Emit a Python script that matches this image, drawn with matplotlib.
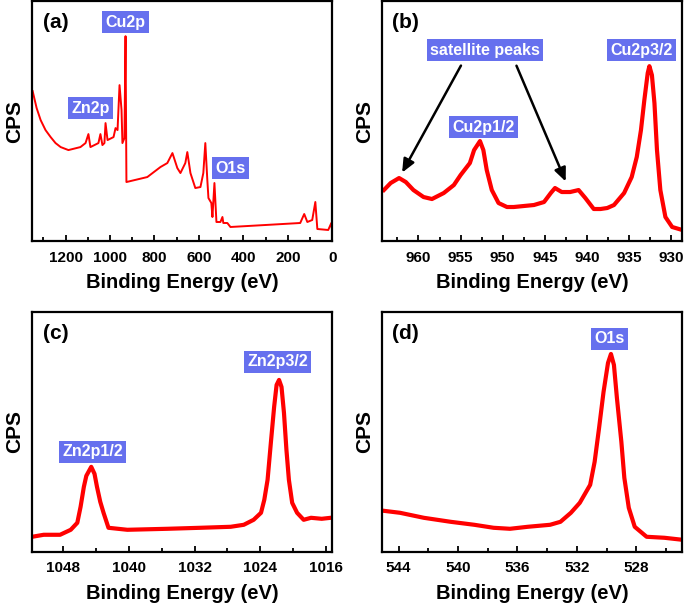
import numpy as np
import matplotlib.pyplot as plt

plt.rcParams['font.family'] = ['Liberation Sans', 'DejaVu Sans']
plt.rcParams['font.weight'] = 'bold'

# (a) survey spectrum, binding energy (eV) vs intensity (arb.)
survey_be = [1348, 1330, 1312, 1290, 1267, 1245, 1222, 1187, 1133, 1110, 1097, 1088, 1052,
             1043, 1034, 1025, 1020, 1011, 984, 975, 966, 957, 948, 944, 935, 930, 926,
             832, 773, 742, 719, 697, 683, 661, 652, 638, 616, 593, 580, 571, 562, 557,
             544, 539, 530, 521, 503, 494, 490, 472, 458, 300, 144, 126, 112, 90, 76,
             67, 18, 4, 0]
survey_cps = [150, 133, 121, 111, 104, 98, 94, 91, 94, 98, 107, 94, 98,
              107, 96, 98, 118, 101, 104, 113, 111, 156, 131, 98, 103, 205, 59,
              64, 74, 78, 88, 73, 68, 78, 89, 68, 53, 54, 68, 98, 61, 43,
              38, 24, 58, 19, 19, 24, 18, 18, 14, 16, 18, 27, 19, 21, 39,
              12, 11, 18, 9]

# (b) Cu 2p
cu_be = [964.1, 963.3, 962.3, 961.5, 960.6, 959.4, 958.4, 957.0, 955.8, 955.0, 953.9,
         953.4, 952.7, 952.3, 951.9, 951.3, 950.5, 949.5, 948.7, 946.3, 945.1, 944.3,
         943.8, 943.0, 942.0, 941.0, 940.2, 939.2, 938.4, 937.6, 936.8, 935.6, 934.7,
         934.1, 933.6, 933.2, 932.8, 932.6, 932.3, 932.0, 931.7, 931.3, 930.7, 929.9,
         928.7]
cu_cps = [51, 58, 63, 59, 51, 44, 42, 48, 56, 66, 78,
          91, 100, 91, 71, 51, 38, 34, 34, 36, 39, 48,
          53, 49, 49, 51, 43, 32, 32, 33, 36, 48, 64,
          84, 111, 141, 168, 175, 166, 138, 91, 51, 24, 14,
          11]

# (c) Zn 2p
zn_be = [1051.8, 1050.4, 1048.4, 1047.1, 1046.3, 1045.9, 1045.5, 1045.2, 1044.6, 1044.2,
         1043.9, 1043.5, 1043.1, 1042.5, 1040.2, 1035.3, 1031.3, 1027.6, 1026.0, 1024.8,
         1023.9, 1023.5, 1023.1, 1022.7, 1022.3, 1022.0, 1021.7, 1021.4, 1021.1, 1020.8,
         1020.5, 1020.1, 1019.5, 1018.7, 1017.8, 1016.5, 1015.4]
zn_cps = [15, 17, 17, 22, 29, 45, 65, 76, 85, 78,
          65, 50, 39, 24, 22, 23, 24, 25, 27, 32,
          39, 52, 72, 109, 145, 167, 172, 165, 139, 102,
          72, 49, 39, 32, 34, 33, 34]

# (d) O 1s
o_be = [545.0, 543.9, 542.3, 540.5, 538.9, 537.6, 536.5, 535.3, 533.8, 533.1, 532.4,
        531.8, 531.1, 530.8, 530.5, 530.2, 529.9, 529.7, 529.5, 529.3, 529.0, 528.8,
        528.5, 528.1, 527.3, 526.1, 524.9]
o_cps = [41, 39, 34, 30, 27, 24, 23, 25, 27, 30, 39,
         49, 67, 90, 124, 160, 189, 198, 187, 154, 110, 74,
         44, 25, 15, 14, 12]

box = dict(boxstyle='square,pad=0.2', fc='#6670EE', ec='none')

fig = plt.figure(figsize=(6.85, 6.07), dpi=100)
axa = fig.add_axes([0.047, 0.603, 0.438, 0.395])
axb = fig.add_axes([0.558, 0.603, 0.438, 0.395])
axc = fig.add_axes([0.047, 0.091, 0.437, 0.395])
axd = fig.add_axes([0.558, 0.091, 0.438, 0.395])

axa.plot(survey_be, survey_cps, color='red', lw=1.4)
axa.set_xlim(1350, 0)
axa.set_xticks([1200, 1000, 800, 600, 400, 200, 0])
axa.set_xticks(np.arange(1300, 0, -100), minor=True)

axb.plot(cu_be, cu_cps, color='red', lw=3)
axb.set_xlim(964.3, 928.7)
axb.set_xticks([960, 955, 950, 945, 940, 935, 930])
axb.set_xticks(np.arange(962.5, 928.7, -5), minor=True)

axc.plot(zn_be, zn_cps, color='red', lw=3)
axc.set_xlim(1051.8, 1015.3)
axc.set_xticks([1048, 1040, 1032, 1024, 1016])
axc.set_xticks(np.arange(1044, 1015, -8), minor=True)

axd.plot(o_be, o_cps, color='red', lw=3)
axd.set_xlim(545.1, 524.9)
axd.set_xticks([544, 540, 536, 532, 528])
axd.set_xticks(np.arange(542, 524.9, -4), minor=True)

for ax, tag in zip([axa, axb, axc, axd], ['(a)', '(b)', '(c)', '(d)']):
    ax.set_ylim(0, 240)
    ax.set_yticks([])
    ax.tick_params(axis='x', which='major', direction='in', length=4, width=1.3,
                   labelsize=11, pad=7)
    ax.tick_params(axis='x', which='minor', direction='in', length=3, width=1.3)
    for s in ax.spines.values():
        s.set_linewidth(1.6)
    ax.set_xlabel('Binding Energy (eV)', fontsize=14.5, fontweight='bold', labelpad=6)
    ax.set_ylabel('CPS', fontsize=15, fontweight='bold', labelpad=6)
    ax.text(0.078, 0.91, tag, transform=ax.transAxes, ha='center', va='center',
            fontsize=15, fontweight='bold')

lab = dict(color='white', fontsize=11.5, fontweight='bold', ha='center', va='center', bbox=box)
axa.text(930, 219, 'Cu2p', **lab)
axa.text(1088, 133, 'Zn2p', **lab)
axa.text(458, 73, 'O1s', **lab)

axb.text(952.1, 191, 'satellite peaks', **lab)
axb.text(952.3, 114, 'Cu2p1/2', **lab)
axb.text(933.5, 191, 'Cu2p3/2', **lab)
arrow = dict(arrowstyle='-|>,head_length=0.8,head_width=0.35', color='black', lw=1.8)
axb.annotate('', xy=(962.1, 66), xytext=(954.8, 178), arrowprops=arrow)
axb.annotate('', xy=(942.4, 57), xytext=(948.5, 178), arrowprops=arrow)

axc.text(1044.4, 100, 'Zn2p1/2', **lab)
axc.text(1021.9, 190, 'Zn2p3/2', **lab)

axd.text(529.8, 213, 'O1s', **lab)

plt.savefig('out.png', dpi=100)
